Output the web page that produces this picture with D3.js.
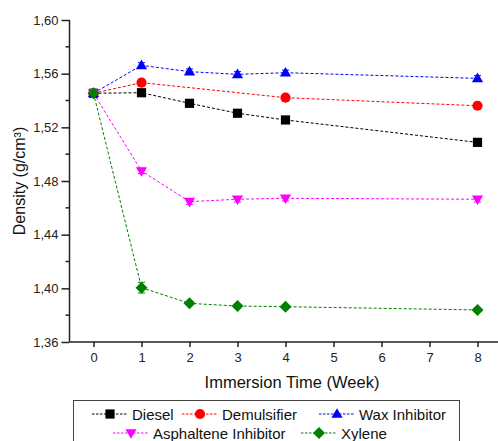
<!DOCTYPE html>
<html>
<head>
<meta charset="utf-8">
<script src="https://cdn.jsdelivr.net/npm/d3@7"></script>
<style>
  html, body { margin: 0; padding: 0; background: #fff; }
  svg { display: block; font-family: "Liberation Sans", Arial, sans-serif; }
</style>
</head>
<body>
<svg id="chart" width="498" height="441"></svg>
<script>
// ---- data ----
const weeks = [0, 1, 2, 3, 4, 8];
const dieselX = [0, 1, 2, 3, 4, 8];
const dieselY = [1.5454, 1.5458, 1.5379, 1.5305, 1.5255, 1.5088];
const dieselErr = [0.001, 0.001, 0.001, 0.001, 0.001, 0.001];
const demulsifierX = [0, 1, 4, 8];
const demulsifierY = [1.5454, 1.5533, 1.5421, 1.5361];
const demulsifierErr = [0.001, 0.001, 0.001, 0.001];
const waxX = [0, 1, 2, 3, 4, 8];
const waxY = [1.5454, 1.5662, 1.5615, 1.5595, 1.5607, 1.5565];
const waxErr = [0.001, 0.002, 0.002, 0.002, 0.002, 0.002];
const asphalteneX = [0, 1, 2, 3, 4, 8];
const asphalteneY = [1.5454, 1.4875, 1.4646, 1.4664, 1.4671, 1.4664];
const asphalteneErr = [0.001, 0.002, 0.002, 0.002, 0.002, 0.002];
const xyleneX = [0, 1, 2, 3, 4, 8];
const xyleneY = [1.5454, 1.4005, 1.3888, 1.3868, 1.3863, 1.3839];
const xyleneErr = [0.001, 0.004, 0.001, 0.001, 0.001, 0.001];
const seriesNames = ["Diesel", "Demulsifier", "Wax Inhibitor", "Asphaltene Inhibitor", "Xylene"];
const seriesColors = ["#000000", "#ff0000", "#0000ff", "#ff00ff", "#008000"];
const seriesSymbols = ["square", "circle", "triangle", "triangleDown", "diamond"];
const yTicks = [1.36, 1.40, 1.44, 1.48, 1.52, 1.56, 1.60];
const yMinorTicks = [1.38, 1.42, 1.46, 1.50, 1.54, 1.58];
const xTicks = [0, 1, 2, 3, 4, 5, 6, 7, 8];
const xTitle = "Immersion Time (Week)";
const yTitle = "Density (g/cm³)";

const series = [
  {x: dieselX, y: dieselY, e: dieselErr},
  {x: demulsifierX, y: demulsifierY, e: demulsifierErr},
  {x: waxX, y: waxY, e: waxErr},
  {x: asphalteneX, y: asphalteneY, e: asphalteneErr},
  {x: xyleneX, y: xyleneY, e: xyleneErr}
].map((s, i) => ({
  name: seriesNames[i], color: seriesColors[i], symbol: seriesSymbols[i],
  pts: s.x.map((xv, j) => ({x: xv, y: s.y[j], e: s.e[j]}))
}));

// ---- layout ----
const svg = d3.select("#chart");
const x = d3.scaleLinear().domain([-0.5, 8.5]).range([69.5, 501.5]);
const y = d3.scaleLinear().domain([1.36, 1.60]).range([342, 20]);

function symbolPath(type, cx, cy) {
  const s = 4.6;
  switch (type) {
    case "square": return `M${cx-s},${cy-s}h${2*s}v${2*s}h${-2*s}Z`;
    case "triangle": return `M${cx},${cy-5.8}L${cx+5.6},${cy+3.8}L${cx-5.6},${cy+3.8}Z`;
    case "triangleDown": return `M${cx},${cy+5.8}L${cx+5.6},${cy-3.8}L${cx-5.6},${cy-3.8}Z`;
    case "diamond": return `M${cx},${cy-6}L${cx+6},${cy}L${cx},${cy+6}L${cx-6},${cy}Z`;
  }
}
function drawSymbol(g, type, cx, cy, color) {
  if (type === "circle") {
    g.append("circle").attr("cx", cx).attr("cy", cy).attr("r", 5.1).attr("fill", color);
  } else {
    g.append("path").attr("d", symbolPath(type, cx, cy)).attr("fill", color);
  }
}

// axes
const yAxis = d3.axisLeft(y).tickValues(yTicks).tickSize(8).tickPadding(3)
  .tickFormat(d => d3.format(".2f")(d).replace(".", ","));
const gy = svg.append("g").attr("transform", "translate(69.5,0)").call(yAxis);
gy.selectAll(".tick text").attr("font-size", 13).attr("fill", "#222");
gy.select(".domain").attr("d", `M0,${y(1.36)}V${y(1.60)}`);
gy.selectAll("line, path").attr("stroke", "#222").attr("stroke-width", 1.5);
gy.selectAll(".minor").data(yMinorTicks).enter().append("line")
  .attr("x1", -4).attr("x2", 0).attr("y1", d => y(d)).attr("y2", d => y(d))
  .attr("stroke", "#222").attr("stroke-width", 1.5);

const xAxis = d3.axisBottom(x).tickValues(xTicks).tickSize(5).tickPadding(6).tickFormat(d3.format("d"));
const gx = svg.append("g").attr("transform", `translate(0,${y(1.36)})`).call(xAxis);
gx.selectAll(".tick text").attr("font-size", 13).attr("fill", "#222");
gx.select(".domain").attr("d", `M${x(-0.5)},0H498`);
gx.selectAll("line, path").attr("stroke", "#222").attr("stroke-width", 1.5);

// titles
svg.append("text").attr("x", 292).attr("y", 388).attr("text-anchor", "middle")
  .attr("font-size", 16.5).attr("fill", "#111").text(xTitle);
svg.append("text").attr("transform", "translate(25,181) rotate(-90)").attr("text-anchor", "middle")
  .attr("font-size", 16).attr("fill", "#111").text(yTitle);

// lines
const line = d3.line().x(d => x(d.x)).y(d => y(d.y));
series.forEach(s => {
  svg.append("path").datum(s.pts).attr("d", line).attr("fill", "none")
    .attr("stroke", s.color).attr("stroke-width", 1).attr("stroke-dasharray", "3,2");
});
// error bars + markers
series.forEach(s => {
  const g = svg.append("g");
  s.pts.forEach(p => {
    const cx = x(p.x);
    g.append("line").attr("x1", cx).attr("x2", cx).attr("y1", y(p.y + p.e)).attr("y2", y(p.y - p.e))
      .attr("stroke", s.color).attr("stroke-width", 1);
    [p.y + p.e, p.y - p.e].forEach(v => g.append("line").attr("x1", cx - 3.5).attr("x2", cx + 3.5)
      .attr("y1", y(v)).attr("y2", y(v)).attr("stroke", s.color).attr("stroke-width", 1));
    drawSymbol(g, s.symbol, cx, y(p.y), s.color);
  });
});

// legend
const lg = svg.append("g");
lg.append("rect").attr("x", 73.5).attr("y", 400.5).attr("width", 386).attr("height", 60)
  .attr("fill", "#fff").attr("stroke", "#444").attr("stroke-width", 1);
const legendPos = [
  {lx: 92, ty: 414}, {lx: 182, ty: 414}, {lx: 319, ty: 414},
  {lx: 113, ty: 433}, {lx: 301, ty: 433}
];
series.forEach((s, i) => {
  const p = legendPos[i];
  lg.append("line").attr("x1", p.lx).attr("x2", p.lx + 36).attr("y1", p.ty).attr("y2", p.ty)
    .attr("stroke", s.color).attr("stroke-width", 1).attr("stroke-dasharray", "2.5,1.5");
  drawSymbol(lg, s.symbol, p.lx + 18, p.ty, s.color);
  lg.append("text").attr("x", p.lx + 40).attr("y", p.ty + 5.5).attr("font-size", 15)
    .attr("fill", "#111").text(s.name);
});
</script>
</body>
</html>
